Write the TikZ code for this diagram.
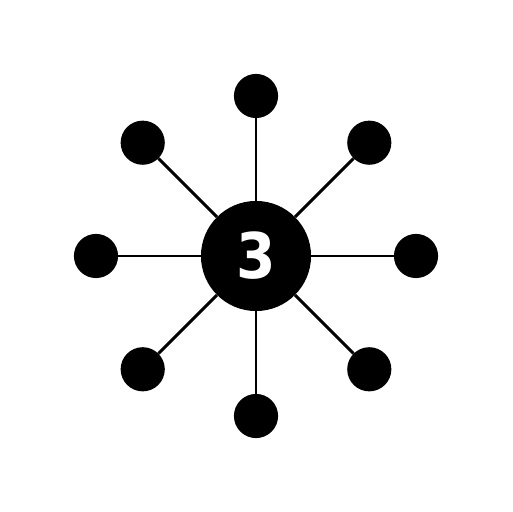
\documentclass[tikz,border=0pt]{standalone}
\usepackage{fontspec}
\newfontfamily\hubfont{DejaVu Sans Condensed}
\begin{document}
\begin{tikzpicture}[hub/.style={circle,fill=black,minimum size=3.44cm,inner sep=0pt,text=white,font=\hubfont\bfseries\fontsize{56}{56}\selectfont}, leaf/.style={circle,fill=black,minimum size=1.38cm,inner sep=0pt}, spoke/.style={line width=2.6pt}]

        \useasboundingbox (0,0) rectangle (16,16);
        \node[hub]  (c) at (8, 8) {3};
        \node[leaf] (n)  at (8, 13) {};
        \node[leaf] (ne) at (11.54, 11.54) {};
        \node[leaf] (e)  at (13, 8) {};
        \node[leaf] (se) at (11.54, 4.46) {};
        \node[leaf] (s)  at (8, 3) {};
        \node[leaf] (sw) at (4.46, 4.46) {};
        \node[leaf] (w)  at (3, 8) {};
        \node[leaf] (nw) at (4.46, 11.54) {};
        \draw[spoke] (c) -- (n);
        \draw[spoke] (c) -- (ne);
        \draw[spoke] (c) -- (e);
        \draw[spoke] (c) -- (se);
        \draw[spoke] (c) -- (s);
        \draw[spoke] (c) -- (sw);
        \draw[spoke] (c) -- (w);
        \draw[spoke] (c) -- (nw);

    \end{tikzpicture}
\end{document}
